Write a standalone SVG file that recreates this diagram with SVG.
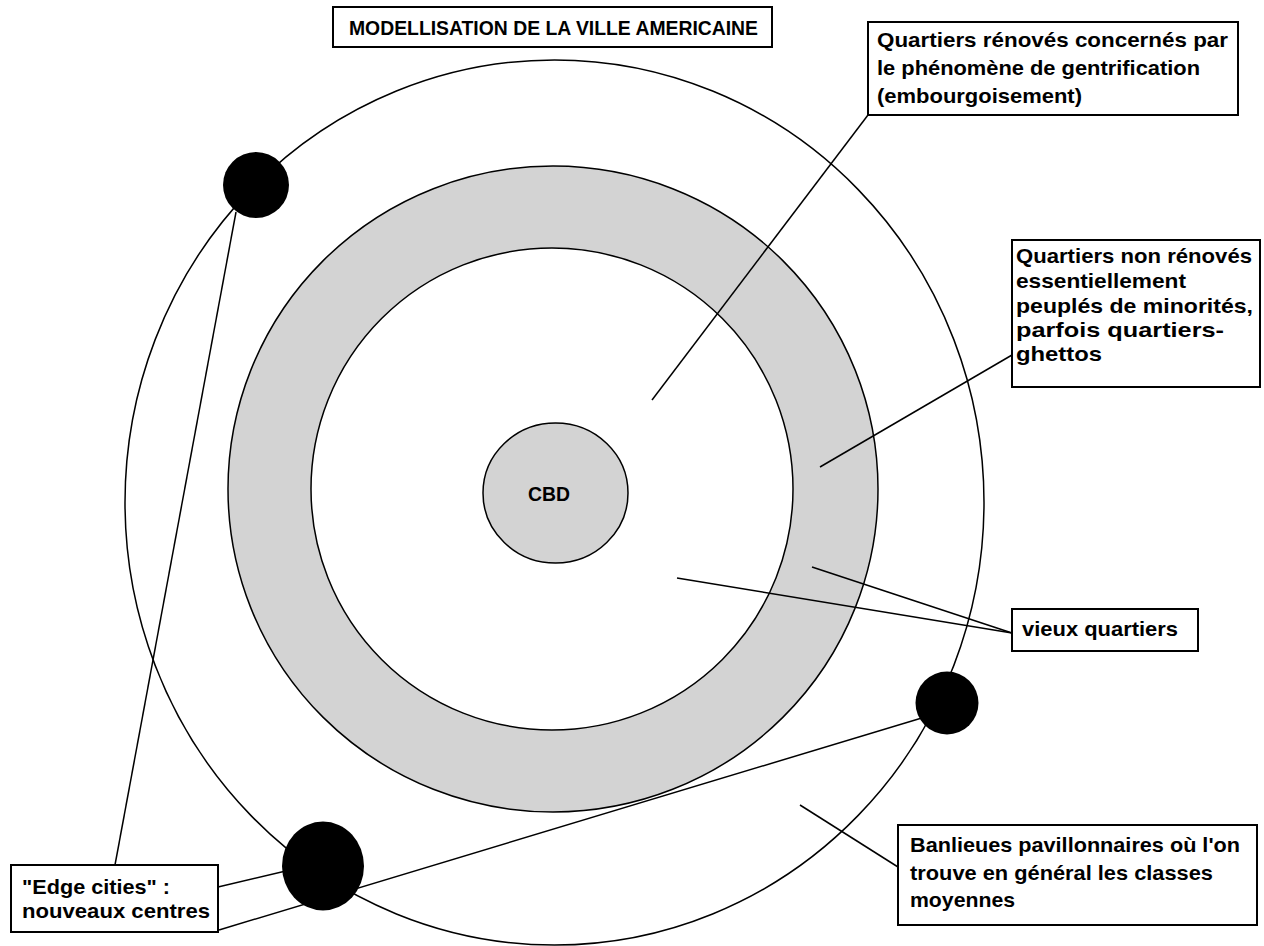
<svg xmlns="http://www.w3.org/2000/svg" width="1264" height="946" viewBox="0 0 1264 946">
<style>
.t{font-family:"Liberation Sans",Arial,sans-serif;font-weight:bold;font-size:21px;fill:#000}
.box{fill:#fff;stroke:#000;stroke-width:2}
.ln{stroke:#000;stroke-width:1.5;fill:none}
.zone{stroke:#000;stroke-width:1.5}
</style>
<rect width="1264" height="946" fill="#fff"/>
<g id="outer-ring"><ellipse cx="554.5" cy="502.5" rx="429.5" ry="442.5" fill="none" class="zone"/></g>
<g id="ring-non-renoves"><ellipse cx="553" cy="489" rx="325" ry="323" fill="#d3d3d3" class="zone"/></g>
<g id="zone-renoves"><circle cx="552" cy="489" r="241" fill="#fff" class="zone"/></g>
<g id="cbd"><ellipse cx="555.5" cy="493" rx="72.5" ry="70" fill="#d3d3d3" class="zone"/>
<text class="t" x="528" y="501" textLength="42" lengthAdjust="spacingAndGlyphs">CBD</text></g>
<g id="connectors">
<line class="ln" x1="868" y1="115" x2="652" y2="400"/>
<line class="ln" x1="1012" y1="355" x2="820" y2="467"/>
<line class="ln" x1="1012" y1="633" x2="812" y2="567"/>
<line class="ln" x1="1012" y1="633" x2="677" y2="578"/>
<line class="ln" x1="898" y1="867" x2="800" y2="805"/>
<line class="ln" x1="115" y1="865" x2="236" y2="212"/>
<line class="ln" x1="218" y1="887" x2="290" y2="870"/>
<line class="ln" x1="219" y1="930" x2="935" y2="714"/>
</g>
<g id="edge-city-1"><circle cx="256" cy="185" r="33" fill="#000"/></g>
<g id="edge-city-2"><circle cx="947" cy="703" r="31.5" fill="#000"/></g>
<g id="edge-city-3"><ellipse cx="323" cy="866" rx="41" ry="44.5" fill="#000"/></g>
<g id="title"><rect class="box" x="333" y="7" width="439" height="40"/>
<text class="t" x="349" y="35" textLength="409" lengthAdjust="spacingAndGlyphs">MODELLISATION DE LA VILLE AMERICAINE</text></g>
<g id="label-renoves"><rect class="box" x="868" y="22" width="370" height="93"/>
<text class="t" x="877" y="47" textLength="351" lengthAdjust="spacingAndGlyphs">Quartiers rénovés concernés par</text>
<text class="t" x="877" y="75" textLength="323" lengthAdjust="spacingAndGlyphs">le phénomène de gentrification</text>
<text class="t" x="877" y="103" textLength="205" lengthAdjust="spacingAndGlyphs">(embourgoisement)</text></g>
<g id="label-non-renoves"><rect class="box" x="1012" y="240" width="248" height="147"/>
<text class="t" x="1016" y="263" textLength="236" lengthAdjust="spacingAndGlyphs">Quartiers non rénovés</text>
<text class="t" x="1016" y="288" textLength="170" lengthAdjust="spacingAndGlyphs">essentiellement</text>
<text class="t" x="1016" y="313" textLength="237" lengthAdjust="spacingAndGlyphs">peuplés de minorités,</text>
<text class="t" x="1016" y="337" textLength="208" lengthAdjust="spacingAndGlyphs">parfois quartiers-</text>
<text class="t" x="1016" y="361" textLength="86" lengthAdjust="spacingAndGlyphs">ghettos</text></g>
<g id="label-vieux"><rect class="box" x="1012" y="609" width="186" height="42"/>
<text class="t" x="1022" y="636" textLength="156" lengthAdjust="spacingAndGlyphs">vieux quartiers</text></g>
<g id="label-banlieues"><rect class="box" x="898" y="825" width="359" height="100"/>
<text class="t" x="910" y="852" textLength="330" lengthAdjust="spacingAndGlyphs">Banlieues pavillonnaires où l'on</text>
<text class="t" x="910" y="880" textLength="303" lengthAdjust="spacingAndGlyphs">trouve en général les classes</text>
<text class="t" x="910" y="907" textLength="105" lengthAdjust="spacingAndGlyphs">moyennes</text></g>
<g id="label-edge"><rect class="box" x="11" y="865" width="207" height="67"/>
<text class="t" x="22" y="894" textLength="148" lengthAdjust="spacingAndGlyphs">"Edge cities" :</text>
<text class="t" x="22" y="918" textLength="188" lengthAdjust="spacingAndGlyphs">nouveaux centres</text></g>
</svg>
